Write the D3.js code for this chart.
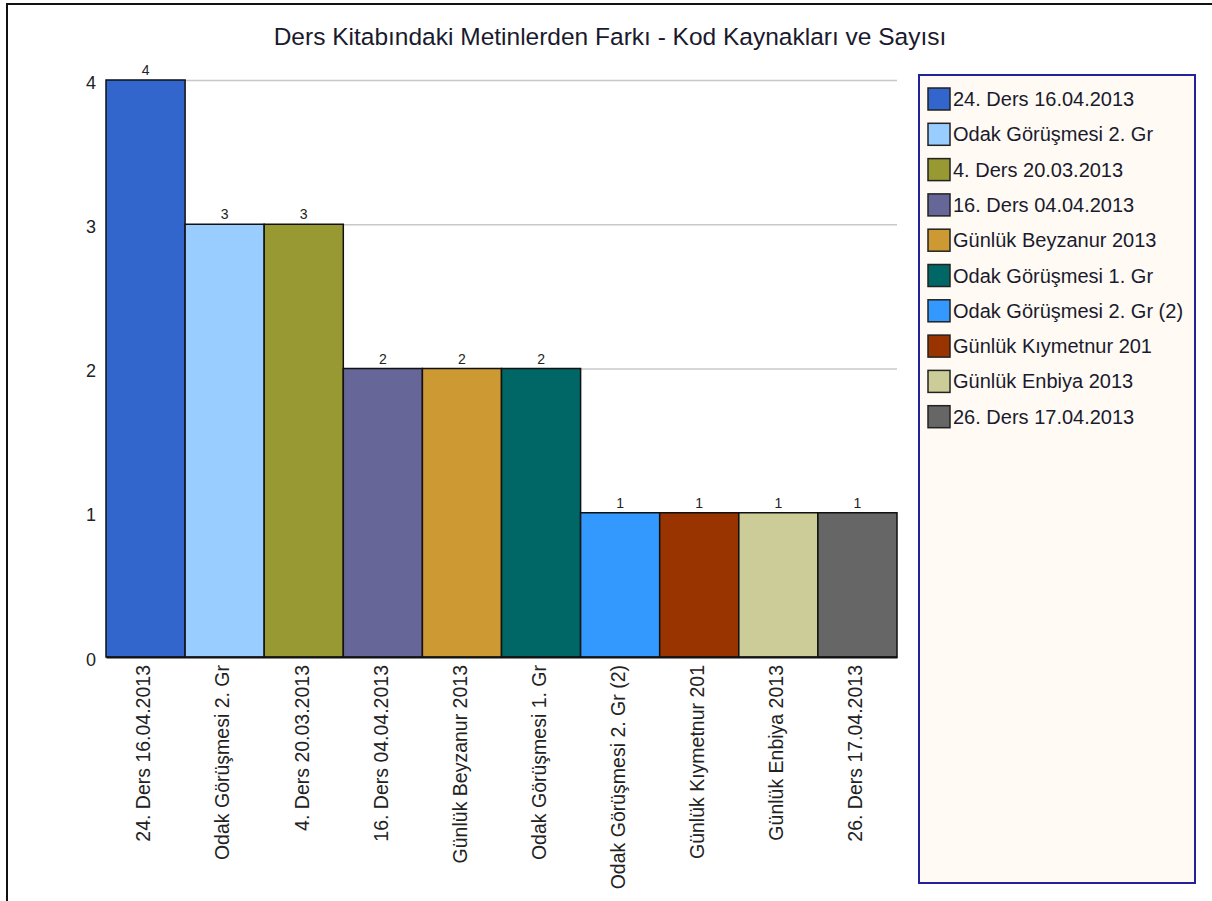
<!DOCTYPE html>
<html>
<head>
<meta charset="utf-8">
<script src="https://cdn.jsdelivr.net/npm/d3@7"></script>
<style>
  body { margin: 0; background: #fff; }
  text { font-family: "Liberation Sans", Arial, sans-serif; }
</style>
</head>
<body>
<svg id="chart" width="1212" height="901"></svg>
<script>
// chart data
var categories = [
  "24. Ders 16.04.2013",
  "Odak Görüşmesi 2. Gr",
  "4. Ders 20.03.2013",
  "16. Ders 04.04.2013",
  "Günlük Beyzanur 2013",
  "Odak Görüşmesi 1. Gr",
  "Odak Görüşmesi 2. Gr (2)",
  "Günlük Kıymetnur 201",
  "Günlük Enbiya 2013",
  "26. Ders 17.04.2013"
];
var values = [4, 3, 3, 2, 2, 2, 1, 1, 1, 1];
var colors = ["#3366cc", "#99ccff", "#999933", "#666699", "#cc9933",
              "#006666", "#3399ff", "#993300", "#cccc99", "#666666"];
var yTicks = [0, 1, 2, 3, 4];
var title = "Ders Kitabındaki Metinlerden Farkı - Kod Kaynakları ve Sayısı";

var svg = d3.select("#chart");

// outer frame (only top and left edges are in view)
svg.append("rect")
  .attr("x", 7).attr("y", 4)
  .attr("width", 1230).attr("height", 920)
  .attr("fill", "#fff")
  .attr("stroke", "#111")
  .attr("stroke-width", 2);

var plot = { left: 106, right: 897, top: 80, bottom: 657 };

var xScale = d3.scaleBand()
  .domain(categories)
  .range([plot.left, plot.right])
  .padding(0);

var yScale = d3.scaleLinear()
  .domain([0, 4])
  .range([plot.bottom, plot.top]);

// title
svg.append("text")
  .attr("x", 610)
  .attr("y", 45)
  .attr("text-anchor", "middle")
  .attr("font-size", "24.5px")
  .attr("fill", "#1a1a2e")
  .text(title);

// gridlines
svg.append("g")
  .selectAll("line")
  .data(yTicks.filter(function (d) { return d > 0; }))
  .enter()
  .append("line")
  .attr("x1", plot.left)
  .attr("x2", plot.right)
  .attr("y1", function (d) { return yScale(d) + 0.5; })
  .attr("y2", function (d) { return yScale(d) + 0.5; })
  .attr("stroke", "#c8c8c8")
  .attr("stroke-width", 1.5);

// y axis labels
var yAxis = d3.axisLeft(yScale).tickValues(yTicks).tickSize(0).tickPadding(10)
  .tickFormat(d3.format("d"));
var yg = svg.append("g")
  .attr("transform", "translate(" + plot.left + ",0)")
  .call(yAxis);
yg.select(".domain").remove();
yg.selectAll("text")
  .attr("dy", "0.45em")
  .attr("font-size", "18px")
  .attr("fill", "#222")
  .attr("font-family", "Liberation Sans, Arial, sans-serif");

// bars
svg.append("g")
  .selectAll("rect")
  .data(values)
  .enter()
  .append("rect")
  .attr("x", function (d, i) { return xScale(categories[i]); })
  .attr("y", function (d) { return yScale(d); })
  .attr("width", xScale.bandwidth())
  .attr("height", function (d) { return yScale(0) - yScale(d); })
  .attr("fill", function (d, i) { return colors[i]; })
  .attr("stroke", "#111")
  .attr("stroke-width", 1.5);

// value labels
svg.append("g")
  .selectAll("text")
  .data(values)
  .enter()
  .append("text")
  .attr("x", function (d, i) { return xScale(categories[i]) + xScale.bandwidth() / 2; })
  .attr("y", function (d) { return yScale(d) - 5; })
  .attr("text-anchor", "middle")
  .attr("font-size", "14px")
  .attr("fill", "#222")
  .text(function (d) { return d; });

// x axis
var xAxis = d3.axisBottom(xScale).tickSize(0).tickPadding(0);
var xg = svg.append("g")
  .attr("transform", "translate(0," + plot.bottom + ")")
  .call(xAxis);
xg.select(".domain")
  .attr("stroke", "#111")
  .attr("stroke-width", 2);
xg.selectAll("text")
  .attr("transform", "rotate(-90)")
  .attr("text-anchor", "end")
  .attr("x", -8)
  .attr("y", -2)
  .attr("dy", "0.35em")
  .attr("font-size", "19.5px")
  .attr("fill", "#222")
  .attr("font-family", "Liberation Sans, Arial, sans-serif");

// legend
var legend = svg.append("g");
legend.append("rect")
  .attr("x", 919).attr("y", 75)
  .attr("width", 276).attr("height", 808)
  .attr("fill", "#fffaf3")
  .attr("stroke", "#22229a")
  .attr("stroke-width", 2);

var rows = legend.selectAll("g.item")
  .data(categories)
  .enter()
  .append("g")
  .attr("class", "item")
  .attr("transform", function (d, i) { return "translate(928," + (88 + i * 35.3) + ")"; });

rows.append("rect")
  .attr("width", 22).attr("height", 22)
  .attr("fill", function (d, i) { return colors[i]; })
  .attr("stroke", "#222")
  .attr("stroke-width", 1.5);

rows.append("text")
  .attr("x", 25)
  .attr("y", 18)
  .attr("font-size", "20px")
  .attr("fill", "#1a1a2e")
  .text(function (d) { return d; });
</script>
</body>
</html>
